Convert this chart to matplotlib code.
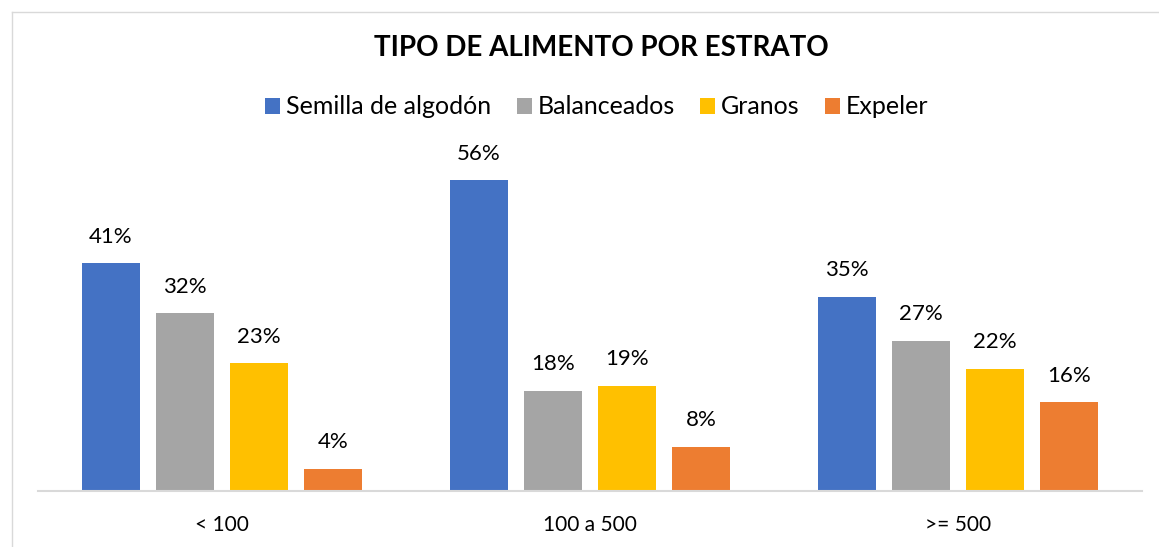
import matplotlib
matplotlib.use("Agg")
import matplotlib.pyplot as plt
from matplotlib.lines import Line2D
from matplotlib.patches import Patch
import numpy as np

categories = ["< 100", "100 a 500", ">= 500"]
series_names = ["Semilla de algodón", "Balanceados", "Granos", "Expeler"]
values = {
    "Semilla de algodón": [0.41, 0.56, 0.35],
    "Balanceados": [0.32, 0.18, 0.27],
    "Granos": [0.23, 0.19, 0.22],
    "Expeler": [0.04, 0.08, 0.16],
}
colors = ["#4472C4", "#A5A5A5", "#FFC000", "#ED7D31"]
title = "TIPO DE ALIMENTO POR ESTRATO"

plt.rcParams['font.family'] = ['Lato', 'DejaVu Sans']

W, H = 1159, 547
fig = plt.figure(figsize=(W / 100, H / 100), dpi=100)
ax = fig.add_axes([38 / W, (H - 491) / H, 1104 / W, 333 / H])

x = np.arange(len(categories))
bw = 0.16
step = 0.201
for i, name in enumerate(series_names):
    pos = x + (i - 1.5) * step
    bars = ax.bar(pos, values[name], width=bw, color=colors[i], zorder=2)
    for b, v in zip(bars, values[name]):
        ax.annotate(f"{round(v * 100)}%", (b.get_x() + b.get_width() / 2, v),
                    xytext=(0, 12), textcoords="offset points",
                    ha="center", va="bottom", fontsize=16, color="#000000")

ax.set_xlim(-0.5, 2.5)
ax.set_ylim(0, 0.6)
ax.set_yticks([])
ax.set_xticks(x)
ax.set_xticklabels(categories, fontsize=15)
ax.tick_params(axis="x", length=0, pad=17)
for s in ["top", "right", "left"]:
    ax.spines[s].set_visible(False)
ax.spines["bottom"].set_color("#D9D9D9")
ax.spines["bottom"].set_linewidth(1.5)

fig.text(601 / W, 1 - 48 / H, title, ha="center", va="center",
         fontsize=20, fontweight="bold")

handles = [Patch(facecolor=c, label=n) for c, n in zip(colors, series_names)]
fig.legend(handles=handles, loc="center", bbox_to_anchor=(597 / W, 1 - 107 / H),
           ncol=4, frameon=False, fontsize=18, handlelength=0.6, handleheight=0.6,
           handletextpad=0.25, columnspacing=1.0)

# faint chart border
fig.add_artist(Line2D([12 / W, 12 / W], [0, 1 - 12 / H], color="#D9D9D9", lw=1, transform=fig.transFigure))
fig.add_artist(Line2D([12 / W, 1], [1 - 12 / H, 1 - 12 / H], color="#D9D9D9", lw=1, transform=fig.transFigure))

fig.savefig("out.png", dpi=100)
